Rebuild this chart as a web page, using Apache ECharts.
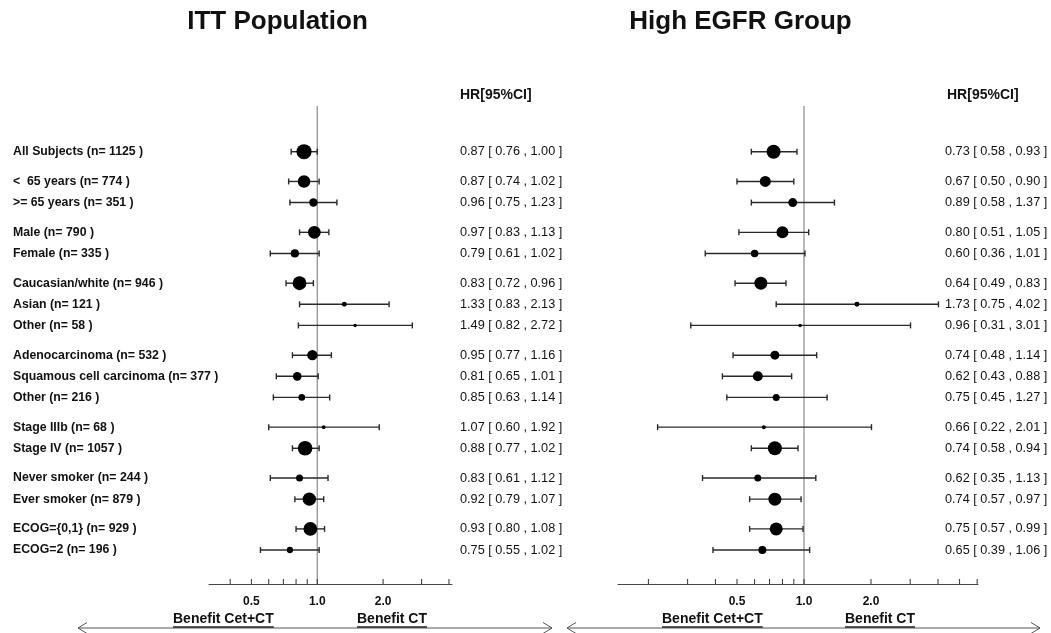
<!DOCTYPE html>
<html><head><meta charset="utf-8">
<script src="https://cdn.jsdelivr.net/npm/echarts@6/dist/echarts.min.js"></script>
<style>html,body{margin:0;padding:0;background:#fff}#c{width:1051px;height:633px}</style>
</head><body><div id="c"></div>
<script>
// ---------- data ----------
const subgroupLabels = [
  'All Subjects (n= 1125 )', '<  65 years (n= 774 )', '>= 65 years (n= 351 )',
  'Male (n= 790 )', 'Female (n= 335 )',
  'Caucasian/white (n= 946 )', 'Asian (n= 121 )', 'Other (n= 58 )',
  'Adenocarcinoma (n= 532 )', 'Squamous cell carcinoma (n= 377 )', 'Other (n= 216 )',
  'Stage IIIb (n= 68 )', 'Stage IV (n= 1057 )',
  'Never smoker (n= 244 )', 'Ever smoker (n= 879 )',
  'ECOG={0,1} (n= 929 )', 'ECOG=2 (n= 196 )'
];
const subgroupGroup = [0,1,1,2,2,3,3,3,4,4,4,5,5,6,6,7,7];

const ittN  = [1125,774,351,790,335,946,121,58,532,377,216,68,1057,244,879,929,196];
const ittHR = [0.87,0.87,0.96,0.97,0.79,0.83,1.33,1.49,0.95,0.81,0.85,1.07,0.88,0.83,0.92,0.93,0.75];
const ittLo = [0.76,0.74,0.75,0.83,0.61,0.72,0.83,0.82,0.77,0.65,0.63,0.60,0.77,0.61,0.79,0.80,0.55];
const ittHi = [1.00,1.02,1.23,1.13,1.02,0.96,2.13,2.72,1.16,1.01,1.14,1.92,1.02,1.12,1.07,1.08,1.02];

// subgroup sizes in the High EGFR panel are not printed
const egfrNEst = [968,598,400,711,278,835,123,60,400,494,242,79,968,242,835,835,316];
const egfrHR = [0.73,0.67,0.89,0.80,0.60,0.64,1.73,0.96,0.74,0.62,0.75,0.66,0.74,0.62,0.74,0.75,0.65];
const egfrLo = [0.58,0.50,0.58,0.51,0.36,0.49,0.75,0.31,0.48,0.43,0.45,0.22,0.58,0.35,0.57,0.57,0.39];
const egfrHi = [0.93,0.90,1.37,1.05,1.01,0.83,4.02,3.01,1.14,0.88,1.27,2.01,0.94,1.13,0.97,0.99,1.06];

const ittTicks  = [0.4,0.5,0.6,0.7,0.8,0.9,1,2,3,4];
const egfrTicks = [0.2,0.3,0.4,0.5,0.6,0.7,0.8,0.9,1,2,3,4,5,6];
const tickLabelValues = [0.5,1,2];
const tickLabels = ['0.5','1.0','2.0'];

// ---------- layout helpers ----------
const FF = '"Liberation Sans", Arial, Helvetica, sans-serif';
const GROUP_GAP = 0.41;
const Y_MIN = -2.165, Y_MAX = 20.48;
const rowPos = subgroupLabels.map((_, i) => i + subgroupGroup[i] * GROUP_GAP);
const markerSize = n => 0.45 * Math.sqrt(n);
const fmt = v => v.toFixed(2);

function rows(hr, lo, hi, n) {
  return hr.map((h, i) => [h, lo[i], hi[i], rowPos[i], n[i]]);
}

function forestRender(textX, showLabels) {
  return function (params, api) {
    const hr = api.value(0), lo = api.value(1), hi = api.value(2), y = api.value(3), n = api.value(4);
    const pL = api.coord([lo, y]), pH = api.coord([hi, y]), pC = api.coord([hr, y]);
    const cap = 3;
    const st = { stroke: '#2a2a2a', lineWidth: 1.4 };
    const children = [
      { type: 'line', shape: { x1: pL[0], y1: pL[1], x2: pH[0], y2: pH[1] }, style: st },
      { type: 'line', shape: { x1: pL[0], y1: pL[1] - cap, x2: pL[0], y2: pL[1] + cap }, style: st },
      { type: 'line', shape: { x1: pH[0], y1: pH[1] - cap, x2: pH[0], y2: pH[1] + cap }, style: st },
      { type: 'circle', shape: { cx: pC[0], cy: pC[1], r: markerSize(n) / 2 }, style: { fill: '#000' } },
      { type: 'text', x: textX, y: pC[1],
        style: { text: fmt(hr) + ' [ ' + fmt(lo) + ' , ' + fmt(hi) + ' ]',
                 fontFamily: FF, fontSize: 12.7, fill: '#111', align: 'left', verticalAlign: 'middle' } }
    ];
    if (showLabels) {
      children.push({ type: 'text', x: 13, y: pC[1],
        style: { text: subgroupLabels[params.dataIndex], fontFamily: FF, fontSize: 12.3, fontWeight: 'bold',
                 fill: '#111', align: 'left', verticalAlign: 'middle' } });
    }
    return { type: 'group', children };
  };
}

function tickRender(params, api) {
  const v = api.value(0);
  const p = api.coord([v, Y_MAX]);
  const children = [
    { type: 'line', shape: { x1: p[0], y1: p[1], x2: p[0], y2: p[1] - 5 }, style: { stroke: '#333', lineWidth: 1 } }
  ];
  const li = tickLabelValues.indexOf(v);
  if (li >= 0) {
    children.push({ type: 'text', x: p[0], y: p[1] + 18,
      style: { text: tickLabels[li], fontFamily: FF, fontSize: 12, fontWeight: 'bold', fill: '#111',
               align: 'center', verticalAlign: 'middle' } });
  }
  return { type: 'group', children };
}

function refRender(params, api) {
  const a = api.coord([api.value(0), Y_MIN]);
  const b = api.coord([api.value(0), Y_MAX]);
  return { type: 'line', shape: { x1: a[0], y1: a[1], x2: b[0], y2: b[1] }, style: { stroke: '#8a8a8a', lineWidth: 1.2 } };
}

// ---------- annotations ----------
const mctx = document.createElement('canvas').getContext('2d');
function textW(t, font) { mctx.font = font; return mctx.measureText(t).width; }
const BF = 'bold 14px ' + FF;

function benefit(x, t) {
  const w = textW(t, BF);
  return [
    { type: 'text', x: x, y: 619, style: { text: t, font: BF, fill: '#111', align: 'left', verticalAlign: 'middle' } },
    { type: 'line', shape: { x1: x, y1: 627, x2: x + w, y2: 627 }, style: { stroke: '#222', lineWidth: 1.3 } }
  ];
}
function arrow(x1, x2, y) {
  const s = { stroke: '#555', lineWidth: 1 };
  return [
    { type: 'line', shape: { x1, y1: y, x2, y2: y }, style: s },
    { type: 'polyline', shape: { points: [[x1 + 9, y - 5.5], [x1, y], [x1 + 9, y + 5.5]] }, style: { stroke: '#555', lineWidth: 1, fill: null } },
    { type: 'polyline', shape: { points: [[x2 - 9, y - 5.5], [x2, y], [x2 - 9, y + 5.5]] }, style: { stroke: '#555', lineWidth: 1, fill: null } }
  ];
}

const graphics = [
  { type: 'text', x: 277.5, y: 22, style: { text: 'ITT Population', font: 'bold 26px ' + FF, fill: '#111', align: 'center', verticalAlign: 'middle' } },
  { type: 'text', x: 740.5, y: 22, style: { text: 'High EGFR Group', font: 'bold 26px ' + FF, fill: '#111', align: 'center', verticalAlign: 'middle' } },
  { type: 'text', x: 460, y: 95, style: { text: 'HR[95%CI]', font: 'bold 14px ' + FF, fill: '#111', align: 'left', verticalAlign: 'middle' } },
  { type: 'text', x: 947, y: 95, style: { text: 'HR[95%CI]', font: 'bold 14px ' + FF, fill: '#111', align: 'left', verticalAlign: 'middle' } },
  ...arrow(78, 552, 628),
  ...arrow(567, 1040, 628),
  ...benefit(173, 'Benefit Cet+CT'),
  ...benefit(357, 'Benefit CT'),
  ...benefit(662, 'Benefit Cet+CT'),
  ...benefit(845, 'Benefit CT')
];

// ---------- chart ----------
const axisX = (min, max, gi) => ({
  type: 'log', logBase: 2, gridIndex: gi, min, max,
  axisLine: { show: true, onZero: false, lineStyle: { color: '#444', width: 1 } },
  axisTick: { show: false }, axisLabel: { show: false }, splitLine: { show: false }
});
const axisY = gi => ({
  type: 'value', gridIndex: gi, inverse: true, min: Y_MIN, max: Y_MAX, show: false
});

const chart = echarts.init(document.getElementById('c'), null, { renderer: 'canvas' });
chart.setOption({
  animation: false,
  backgroundColor: '#fff',
  grid: [
    { left: 209, right: 1051 - 452, top: 106, bottom: 633 - 584 },
    { left: 618, right: 1051 - 978, top: 106, bottom: 633 - 584 }
  ],
  xAxis: [axisX(0.32, 4.13, 0), axisX(0.146, 6.05, 1)],
  yAxis: [axisY(0), axisY(1)],
  graphic: graphics,
  series: [
    { type: 'custom', name: 'ref ITT', xAxisIndex: 0, yAxisIndex: 0, data: [[1]], renderItem: refRender, encode: { x: 0 }, silent: true },
    { type: 'custom', name: 'ref EGFR', xAxisIndex: 1, yAxisIndex: 1, data: [[1]], renderItem: refRender, encode: { x: 0 }, silent: true },
    { type: 'custom', name: 'ticks ITT', xAxisIndex: 0, yAxisIndex: 0, data: ittTicks.map(v => [v]), renderItem: tickRender, encode: { x: 0 }, silent: true },
    { type: 'custom', name: 'ticks EGFR', xAxisIndex: 1, yAxisIndex: 1, data: egfrTicks.map(v => [v]), renderItem: tickRender, encode: { x: 0 }, silent: true },
    { type: 'custom', name: 'ITT Population', xAxisIndex: 0, yAxisIndex: 0,
      data: rows(ittHR, ittLo, ittHi, ittN), encode: { x: [0, 1, 2], y: 3 }, renderItem: forestRender(460, true), clip: false },
    { type: 'custom', name: 'High EGFR Group', xAxisIndex: 1, yAxisIndex: 1,
      data: rows(egfrHR, egfrLo, egfrHi, egfrNEst), encode: { x: [0, 1, 2], y: 3 }, renderItem: forestRender(945, false), clip: false }
  ]
});
</script>
</body></html>
